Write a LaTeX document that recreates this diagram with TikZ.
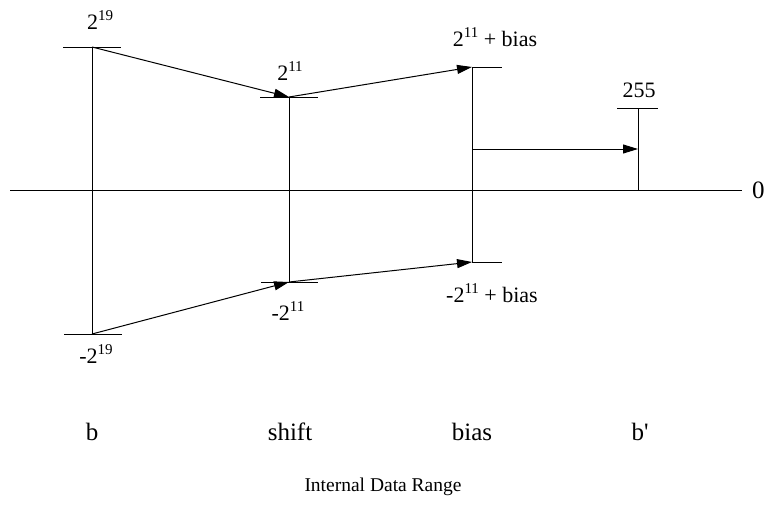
\documentclass[tikz,border=0pt]{standalone}
\usepackage{fontspec}
\setmainfont{Liberation Serif}
\usetikzlibrary{arrows.meta, positioning}
\newcommand{\expo}[1]{\raisebox{0.42em}{\fontsize{15}{15}\selectfont #1}}

\begin{document}
\begin{tikzpicture}[x=1pt, y=-1pt,
        lbl/.style={font=\fontsize{22}{26}\selectfont, inner sep=0pt},
        steplbl/.style={font=\fontsize{25}{28}\selectfont, inner sep=0pt},
        rule/.style={line width=0.6pt},
        arr/.style={-{Triangle[length=15pt, width=9pt]}, line width=1pt}
      ]
        \useasboundingbox (0,0) rectangle (765,522);
        % zero line
        \coordinate (zl) at (10,190);
        \coordinate (zr) at (742,190);
        \draw[rule] (zl) -- (zr);
        \node[steplbl, right=10pt of zr] (zero) {0};
        % range ends
        \coordinate (bt) at (92,47);
        \coordinate (bb) at (92,334);
        \coordinate (st) at (289,97);
        \coordinate (sb) at (289,282);
        \coordinate (at) at (472,67);
        \coordinate (ab) at (472,262);
        \coordinate (ct) at (638,108);
        \coordinate (cz) at (638,190);
        \coordinate (am) at (472,149);
        \coordinate (cm) at (638,149);
        \draw[rule] (bt) -- (bb);
        \draw[rule] (st) -- (sb);
        \draw[rule] (at) -- (ab);
        \draw[rule] (ct) -- (cz);
        \draw[rule] ([xshift=-29pt]bt) -- ([xshift=29pt]bt);
        \draw[rule] ([xshift=-28pt]bb) -- ([xshift=30pt]bb);
        \draw[rule] ([xshift=-29pt]st) -- ([xshift=29pt]st);
        \draw[rule] ([xshift=-28pt]sb) -- ([xshift=29pt]sb);
        \draw[rule] (at) -- ([xshift=30pt]at);
        \draw[rule] (ab) -- ([xshift=30pt]ab);
        \draw[rule] ([xshift=-21pt]ct) -- ([xshift=20pt]ct);
        % values
        \node[lbl] (btl) at (100,20) {2\expo{19}};
        \node[lbl] (bbl) at (96,354) {-2\expo{19}};
        \node[lbl] (stl) at (290,71) {2\expo{11}};
        \node[lbl] (sbl) at (288,311) {-2\expo{11}};
        \node[lbl] (atl) at (495,37) {2\expo{11} + bias};
        \node[lbl] (abl) at (492,293) {-2\expo{11} + bias};
        \node[lbl] (ctl) at (639,90) {255};
        % steps
        \node[steplbl] (b) at (92,432) {b};
        \node[steplbl] (shift) at (290,432) {shift};
        \node[steplbl] (bias) at (472,432) {bias};
        \node[steplbl] (bp) at (640,432) {b\textquotesingle};
        \node[lbl, font=\fontsize{19.5}{22}\selectfont] (title) at (383,487) {Internal Data Range};
        \draw[arr] (bt) -- (st);
        \draw[arr] (st) -- (at);
        \draw[arr] (bb) -- (sb);
        \draw[arr] (sb) -- (ab);
        \draw[arr] (am) -- (cm);
      \end{tikzpicture}
\end{document}
